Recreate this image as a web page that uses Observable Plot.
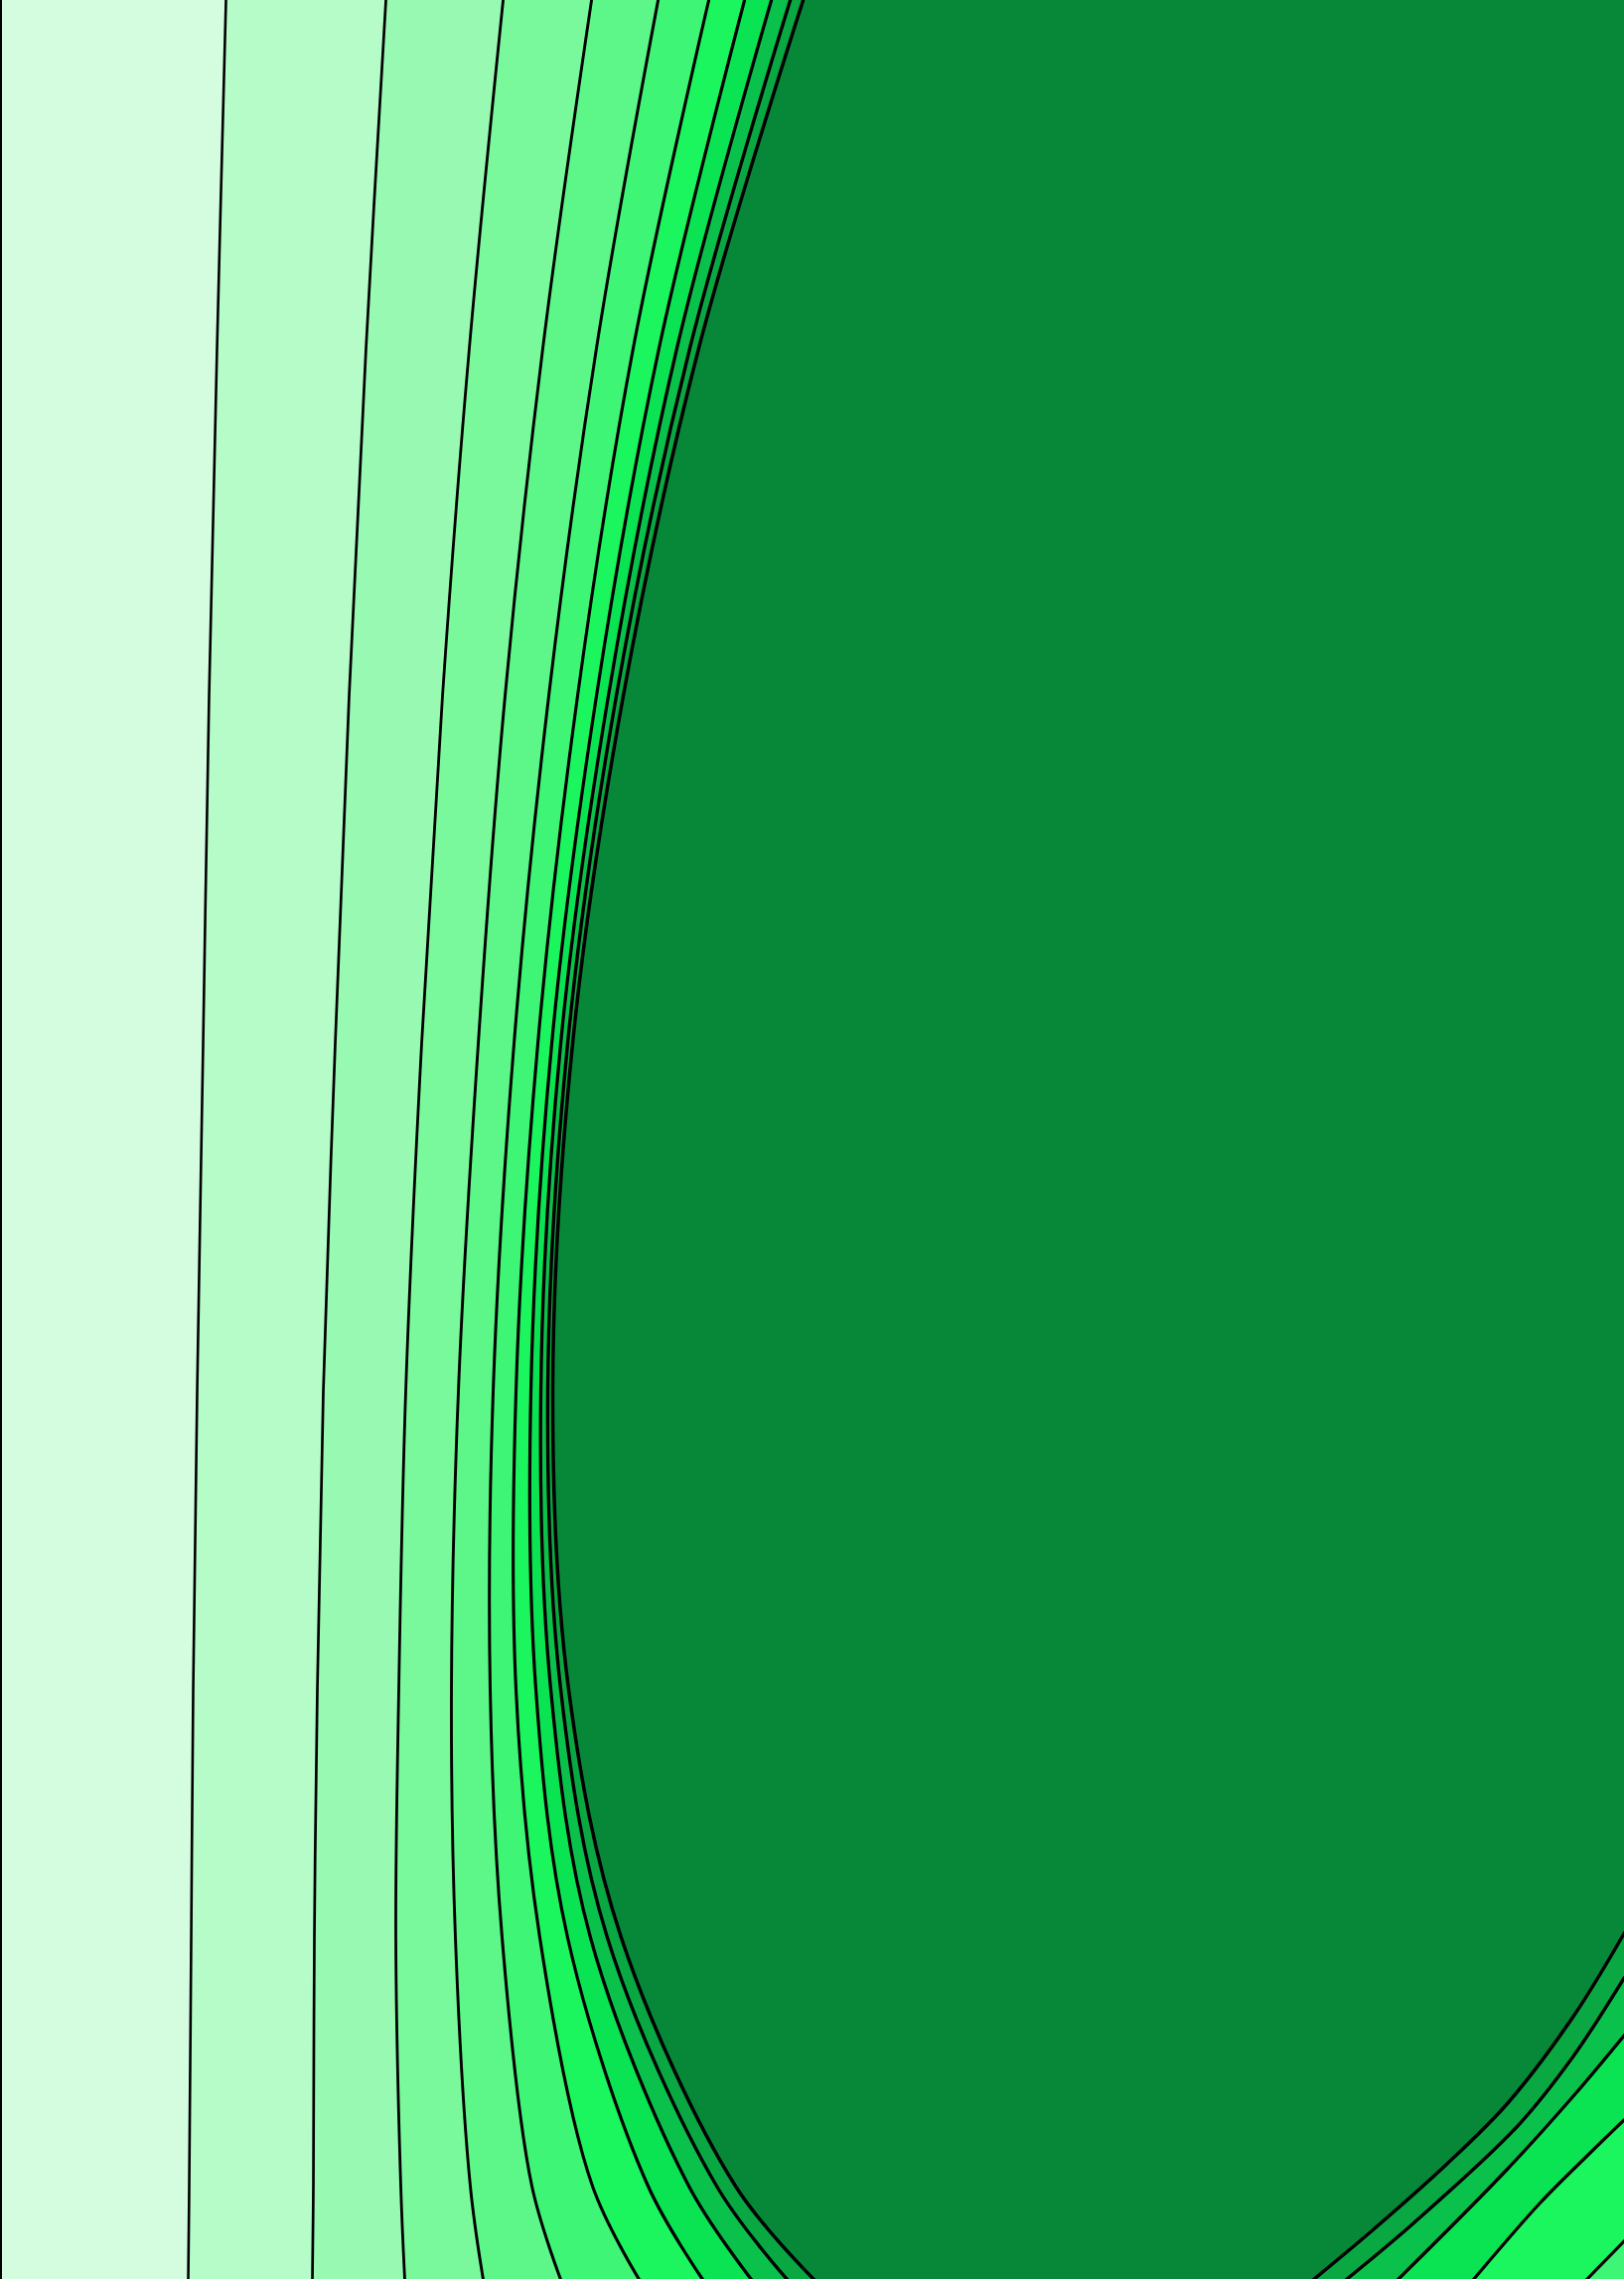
<!DOCTYPE html>
<html><head><meta charset="utf-8">
<script src="https://cdn.jsdelivr.net/npm/d3@7"></script>
<script src="https://cdn.jsdelivr.net/npm/@observablehq/plot@0.6"></script>
<style>html,body{margin:0;padding:0;background:#fff}#chart svg{display:block}</style>
</head><body><div id="chart"></div>
<script>
// Extent of the field (plot units)
const fieldWidth = 1635, fieldHeight = 2294;

// Band colours, from lowest level band to highest (innermost)
const bandColors = ["#d4fde0", "#b5fcc8", "#98fab2", "#7af99c", "#5cf788", "#3ef576",
                    "#1bf55e", "#0be452", "#0ac24b", "#09a842", "#078838"];

// Left family of contour lines: x position at each sample row
const rowY    = [0,   350, 700, 1050, 1400, 1700, 1950, 2200, 2294];
const line1X  = [227, 218, 210, 204,  198,  194,  192,  190,  189];
const line2X  = [388, 368, 351, 337,  325,  319,  316,  315,  314];
const line3X  = [506, 472, 445, 424,  408,  401,  398,  403,  407];
const line4X  = [595, 546, 508, 481,  461,  454,  458,  473,  486];
const line5X  = [662, 600, 552, 517,  496,  493,  505,  535,  564];
const line6X  = [713, 637, 581, 541,  519,  519,  543,  596,  643];
const line7X  = [749, 663, 600, 555,  534,  539,  571,  652,  707];
const line8X  = [776, 681, 612, 564,  544,  554,  594,  693,  756];
const line9X  = [795, 694, 620, 571,  551,  564,  611,  721,  792];
const line10X = [808, 703, 627, 576,  556,  572,  625,  740,  819];

// Bottom-right family (same levels 6..10), points along each line
const br10X = [1322, 1383, 1457, 1517, 1583, 1635];
const br10Y = [2294, 2243, 2177, 2117, 2030, 1945];
const br9X  = [1355, 1423, 1527, 1583, 1635];
const br9Y  = [2294, 2237, 2140, 2070, 1990];
const br8X  = [1407, 1517, 1583, 1635];
const br8Y  = [2294, 2183, 2110, 2048];
const br7X  = [1483, 1550, 1600, 1635];
const br7Y  = [2294, 2217, 2167, 2133];
const br6X  = [1597, 1635];
const br6Y  = [2294, 2255];

// Line widths per level (1..10)
const lineWidths = [2.6, 2.7, 2.8, 2.9, 3.0, 3.1, 3.2, 3.3, 3.4, 3.5];

const leftLines = [line1X, line2X, line3X, line4X, line5X, line6X, line7X, line8X, line9X, line10X];
const brLines = {10: [br10X, br10Y], 9: [br9X, br9Y], 8: [br8X, br8Y], 7: [br7X, br7Y], 6: [br6X, br6Y]};

const curve = "catmull-rom";
const marks = [];

// fills, left family (painter's order)
for (let k = 10; k >= 1; k--) {
  const xs = leftLines[k - 1];
  const data = rowY.map((y, i) => ({y, x: xs[i]}));
  marks.push(Plot.areaX(data, {y: "y", x1: 0, x2: "x", fill: bandColors[k - 1], curve}));
}
// fills, bottom-right family
for (let k = 10; k >= 6; k--) {
  const [xs, ys] = brLines[k];
  const data = xs.map((x, i) => ({x, y: ys[i]}));
  marks.push(Plot.areaY(data, {x: "x", y1: "y", y2: fieldHeight, fill: bandColors[k - 1], curve}));
}
// contour lines
for (let k = 1; k <= 10; k++) {
  const xs = leftLines[k - 1];
  const data = rowY.map((y, i) => ({y, x: xs[i]}));
  marks.push(Plot.line(data, {x: "x", y: "y", stroke: "black", strokeWidth: lineWidths[k - 1], curve}));
}
for (let k = 6; k <= 10; k++) {
  const [xs, ys] = brLines[k];
  const data = xs.map((x, i) => ({x, y: ys[i]}));
  marks.push(Plot.line(data, {x: "x", y: "y", stroke: "black", strokeWidth: lineWidths[k - 1], curve}));
}
marks.push(Plot.frame({anchor: "left", stroke: "black", strokeWidth: 3}));

const chart = Plot.plot({
  width: fieldWidth,
  height: fieldHeight,
  margin: 0,
  style: {background: bandColors[10]},
  x: {domain: [0, fieldWidth], axis: null},
  y: {domain: [0, fieldHeight], reverse: true, axis: null},
  marks
});
document.getElementById("chart").appendChild(chart);
</script>
</body></html>
